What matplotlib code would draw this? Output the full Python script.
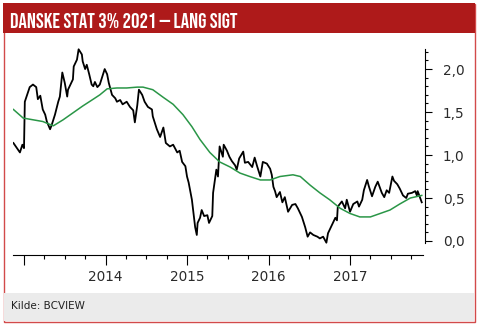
import matplotlib.pyplot as plt
from matplotlib.patches import Rectangle
from matplotlib.ticker import FixedLocator, FuncFormatter

# Danish govt bond 3% 2021, daily yield and its moving average
close_t = [2012.87, 2012.95, 2012.98, 2013.00, 2013.01, 2013.07, 2013.11, 2013.15, 2013.17, 2013.20,
           2013.23, 2013.26, 2013.28, 2013.32, 2013.34, 2013.38, 2013.42, 2013.44, 2013.47, 2013.50,
           2013.53, 2013.54, 2013.58, 2013.60, 2013.61, 2013.65, 2013.67, 2013.71, 2013.72, 2013.75,
           2013.77, 2013.80, 2013.83, 2013.85, 2013.87, 2013.90, 2013.93, 2013.96, 2013.99, 2014.02,
           2014.04, 2014.08, 2014.12, 2014.14, 2014.18, 2014.21, 2014.26, 2014.30, 2014.34, 2014.36,
           2014.39, 2014.41, 2014.45, 2014.48, 2014.52, 2014.57, 2014.58, 2014.63, 2014.67, 2014.71,
           2014.74, 2014.79, 2014.83, 2014.88, 2014.91, 2014.94, 2014.98, 2015.00, 2015.02, 2015.06,
           2015.07, 2015.10, 2015.12, 2015.13, 2015.16, 2015.18, 2015.21, 2015.25, 2015.27, 2015.31,
           2015.32, 2015.36, 2015.38, 2015.40, 2015.44, 2015.45, 2015.49, 2015.52, 2015.55, 2015.59,
           2015.61, 2015.64, 2015.69, 2015.71, 2015.75, 2015.80, 2015.83, 2015.86, 2015.90, 2015.93,
           2015.98, 2016.02, 2016.04, 2016.06, 2016.08, 2016.10, 2016.14, 2016.17, 2016.20, 2016.24,
           2016.29, 2016.33, 2016.36, 2016.41, 2016.45, 2016.48, 2016.51, 2016.55, 2016.60, 2016.63,
           2016.67, 2016.71, 2016.73, 2016.78, 2016.82, 2016.84, 2016.85, 2016.90, 2016.94, 2016.96,
           2017.00, 2017.04, 2017.09, 2017.11, 2017.15, 2017.17, 2017.21, 2017.23, 2017.27, 2017.31,
           2017.34, 2017.39, 2017.42, 2017.45, 2017.48, 2017.52, 2017.54, 2017.58, 2017.61, 2017.65,
           2017.69, 2017.71, 2017.76, 2017.80, 2017.82, 2017.83, 2017.86, 2017.88]
close = [1.14, 1.03, 1.12, 1.08, 1.62, 1.79, 1.82, 1.79, 1.65, 1.69,
         1.53, 1.47, 1.39, 1.30, 1.35, 1.47, 1.62, 1.68, 1.96, 1.84,
         1.68, 1.76, 1.84, 1.88, 2.03, 2.11, 2.23, 2.17, 2.09, 2.00,
         2.05, 1.94, 1.82, 1.80, 1.85, 1.79, 1.82, 1.91, 2.00, 1.94,
         1.84, 1.70, 1.66, 1.62, 1.64, 1.59, 1.62, 1.56, 1.52, 1.38,
         1.58, 1.76, 1.70, 1.62, 1.56, 1.53, 1.45, 1.30, 1.21, 1.32,
         1.14, 1.10, 1.12, 1.03, 1.05, 0.92, 0.87, 0.75, 0.68, 0.48,
         0.40, 0.16, 0.07, 0.21, 0.27, 0.36, 0.29, 0.30, 0.21, 0.29,
         0.56, 0.83, 0.75, 1.10, 0.98, 1.12, 1.05, 0.98, 0.93, 0.88,
         0.83, 0.96, 1.04, 0.91, 0.92, 0.86, 0.97, 0.87, 0.75, 0.92,
         0.90, 0.84, 0.77, 0.63, 0.58, 0.51, 0.57, 0.45, 0.51, 0.34,
         0.42, 0.43, 0.38, 0.28, 0.16, 0.05, 0.10, 0.07, 0.05, 0.03,
         0.05, -0.02, 0.09, 0.19, 0.27, 0.24, 0.40, 0.46, 0.38, 0.48,
         0.34, 0.43, 0.46, 0.40, 0.48, 0.59, 0.71, 0.64, 0.52, 0.63,
         0.69, 0.56, 0.51, 0.59, 0.56, 0.75, 0.70, 0.66, 0.61, 0.53,
         0.50, 0.55, 0.56, 0.58, 0.53, 0.58, 0.50, 0.45]

ma_t = [2012.87, 2012.99, 2013.11, 2013.23, 2013.36, 2013.48, 2013.60, 2013.72, 2013.85, 2013.93,
        2014.02, 2014.14, 2014.26, 2014.39, 2014.46, 2014.58, 2014.71, 2014.83, 2014.95, 2015.06,
        2015.16, 2015.28, 2015.40, 2015.53, 2015.65, 2015.77, 2015.90, 2016.02, 2016.14, 2016.30,
        2016.39, 2016.51, 2016.63, 2016.75, 2016.88, 2017.00, 2017.12, 2017.25, 2017.37, 2017.49,
        2017.61, 2017.74, 2017.88]
ma = [1.53, 1.43, 1.41, 1.39, 1.34, 1.41, 1.49, 1.57, 1.65, 1.70,
      1.77, 1.78, 1.78, 1.79, 1.79, 1.76, 1.67, 1.59, 1.47, 1.33,
      1.18, 1.03, 0.92, 0.86, 0.79, 0.75, 0.71, 0.71, 0.75, 0.77,
      0.75, 0.65, 0.56, 0.48, 0.38, 0.32, 0.28, 0.28, 0.32, 0.36,
      0.43, 0.50, 0.53]

year_ticks = [2013, 2014, 2015, 2016, 2017]
title = 'DANSKE STAT 3% 2021 — LANG SIGT'
source = 'Kilde: BCVIEW'

W, H = 479, 326
fig = plt.figure(figsize=(W / 100, H / 100), dpi=100)

# frame, red title band and grey footer
fig.patches.append(Rectangle((3.5 / W, 1 - 321.5 / H), 471 / W, 318 / H, transform=fig.transFigure,
                             fill=False, edgecolor='#d24a4a', lw=1.0))
fig.patches.append(Rectangle((3 / W, 1 - 33 / H), 472 / W, 30 / H, transform=fig.transFigure,
                             facecolor='#ae1a1a', edgecolor='none'))
fig.patches.append(Rectangle((4 / W, 1 - 320.5 / H), 470 / W, 27.5 / H, transform=fig.transFigure,
                             facecolor='#ebebeb', edgecolor='none'))

tt = fig.text(10 / W, 1 - 28 / H, title, color='white', fontsize=15,
              family=['Bebas Neue', 'Oswald', 'Roboto Condensed', 'DejaVu Sans'],
              va='baseline', ha='left')
fig.text(11 / W, 1 - 306 / H, source, color='#222222', fontsize=7.5, va='center', ha='left')

# fit the title size so it spans the same width as in the original
fig.canvas.draw()
tw = tt.get_window_extent().width
tt.set_fontsize(15 * 228 / tw)

ax = fig.add_axes([13 / W, 71 / H, (425 - 13) / W, (281 - 71) / H])
ax.plot(close_t, close, color='black', lw=1.3)
ax.plot(ma_t, ma, color='#2a9647', lw=1.1)

ax.set_xlim(2012.865, 2017.92)
ax.set_ylim(-0.163, 2.28)
ax.patch.set_visible(False)

for s in ['top', 'left']:
    ax.spines[s].set_visible(False)
ax.spines['right'].set_bounds(-0.02, 2.23)
ax.spines['bottom'].set_bounds(2012.865, 2017.895)
ax.spines['right'].set_linewidth(0.8)
ax.spines['bottom'].set_linewidth(0.8)

ax.yaxis.tick_right()
ax.yaxis.set_major_locator(FixedLocator([0.0, 0.5, 1.0, 1.5, 2.0]))
ax.yaxis.set_minor_locator(FixedLocator([i / 10 for i in range(23)]))
ax.yaxis.set_major_formatter(FuncFormatter(lambda v, p: f'{v:.1f}'.replace('.', ',')))

ax.xaxis.set_major_locator(FixedLocator(year_ticks))
ax.xaxis.set_minor_locator(FixedLocator([2013 + q / 4 for q in range(20)]))
ax.xaxis.set_major_formatter(FuncFormatter(lambda v, p: '' if v < 2013.5 else str(int(round(v)))))

ax.tick_params(axis='x', which='major', length=7, width=0.8, pad=3.5, labelsize=9.8, labelcolor='#2a2a2a')
ax.tick_params(axis='x', which='minor', length=3, width=0.8)
ax.tick_params(axis='y', which='major', length=5, width=0.8, pad=8, labelsize=9.8, labelcolor='#2a2a2a')
ax.tick_params(axis='y', which='minor', length=2.5, width=0.8)

fig.savefig('out.png', dpi=100)
